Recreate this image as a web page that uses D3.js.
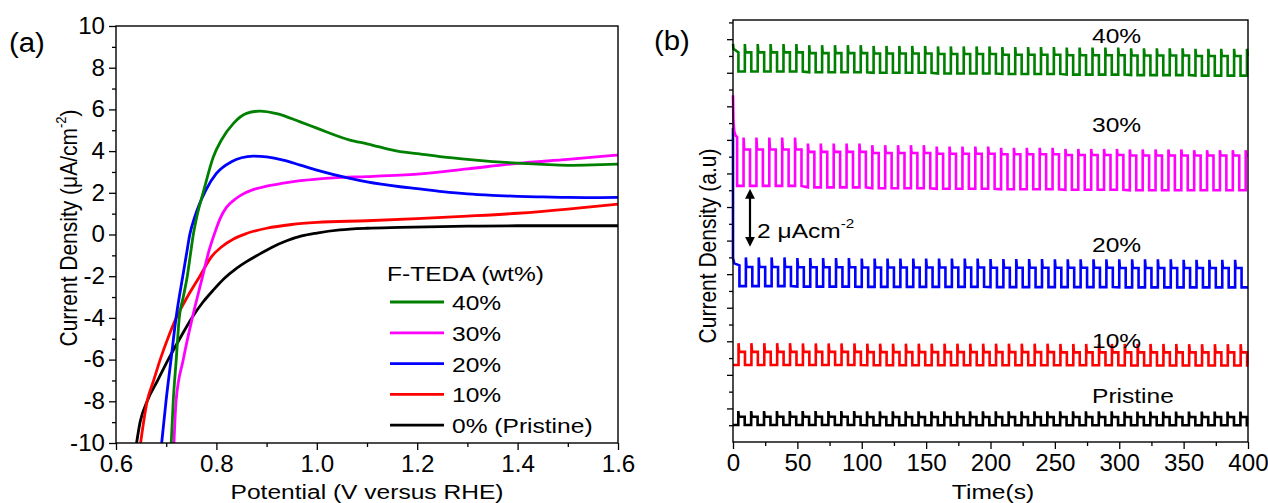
<!DOCTYPE html>
<html><head><meta charset="utf-8">
<script src="https://cdn.jsdelivr.net/npm/d3@7"></script>
<style>
body{margin:0;background:#fff}
svg{display:block}
text{font-family:"Liberation Sans",Arial,sans-serif;fill:#000}
</style>
</head><body>
<svg id="c" width="1268" height="503"></svg>
<script>
// ---------- Panel (a) data: LSV curves [potential V, current density uA/cm2] ----------
const green40 = [[0.710,-10],[0.714,-8],[0.720,-6],[0.726,-4],[0.734,-3],[0.742,-2],[0.748,-1],[0.754,0],[0.761,0.85],[0.775,2.13],[0.794,3.73],[0.810,4.53],[0.834,5.33],[0.860,5.81],[0.887,5.92],[0.920,5.8],[0.967,5.4],[1.0,5.1],[1.066,4.53],[1.1,4.35],[1.166,3.97],[1.2,3.88],[1.25,3.72],[1.3,3.6],[1.35,3.5],[1.4,3.42],[1.45,3.36],[1.5,3.32],[1.55,3.34],[1.6,3.38]];
const magenta30 = [[0.7155,-10],[0.7196,-8],[0.734,-6],[0.752,-4],[0.7726,-2],[0.785,-0.8],[0.797,0.1],[0.808,0.8],[0.82,1.3],[0.835,1.65],[0.85,1.9],[0.873,2.15],[0.9,2.32],[0.93,2.45],[0.967,2.58],[1.0,2.66],[1.033,2.72],[1.1,2.78],[1.166,2.85],[1.2,2.9],[1.3,3.15],[1.4,3.41],[1.5,3.6],[1.6,3.81]];
const blue20 = [[0.691,-10],[0.6996,-8],[0.7096,-6],[0.7196,-4],[0.733,-2],[0.740,-1],[0.747,0],[0.757,0.85],[0.779,2.13],[0.80,2.93],[0.83,3.49],[0.85,3.68],[0.873,3.76],[0.90,3.72],[0.933,3.57],[0.967,3.33],[1.0,3.09],[1.066,2.69],[1.1,2.52],[1.166,2.29],[1.2,2.2],[1.25,2.06],[1.3,1.95],[1.35,1.88],[1.4,1.83],[1.45,1.8],[1.5,1.78],[1.55,1.77],[1.6,1.78]];
const red10 = [[0.649,-10],[0.662,-8],[0.675,-7],[0.688,-6],[0.703,-5],[0.72,-4],[0.742,-3],[0.767,-2],[0.79,-1.07],[0.81,-0.6],[0.835,-0.2],[0.86,0.05],[0.9,0.3],[0.95,0.48],[1.0,0.58],[1.1,0.66],[1.2,0.76],[1.3,0.88],[1.4,1.02],[1.5,1.22],[1.6,1.46]];
const black0 = [[0.641,-10],[0.648,-9],[0.662,-8],[0.683,-7],[0.704,-6],[0.727,-5],[0.751,-4],[0.773,-3.25],[0.794,-2.66],[0.815,-2.12],[0.84,-1.62],[0.86,-1.3],[0.88,-1.02],[0.91,-0.62],[0.94,-0.3],[0.97,-0.07],[1.0,0.07],[1.046,0.22],[1.1,0.3],[1.166,0.34],[1.3,0.4],[1.4,0.42],[1.5,0.42],[1.6,0.42]];
const legendLabels = ["40%","30%","20%","10%","0% (Pristine)"];
const xTicksA = [0.6,0.8,1.0,1.2,1.4,1.6];
const xMinorA = [0.7,0.9,1.1,1.3,1.5];
const yTicksA = [-10,-8,-6,-4,-2,0,2,4,6,8,10];
const yMinorA = [-9,-7,-5,-3,-1,1,3,5,7,9];

// ---------- Panel (b) data: chopped-light chronoamperometry (a.u. = uA/cm2 + offset) ----------
const cycleStarts = [0,10,20,30,40,50,60,70,80,90,100,110,120,130,140,150,160,170,180,190,200,210,220,230,240,250,260,270,280,290,300,310,320,330,340,350,360,370,380,390];
const blockStarts = [0,50,100,150,200,250,300,350];
const greenSpike   = [16.6,16.55,16.52,16.5,16.47,16.45,16.42,16.4];
const greenPlateau = [16.25,16.22,16.2,16.18,16.15,16.13,16.12,16.1];
const greenBase    = [15.45,15.42,15.4,15.37,15.35,15.32,15.3,15.28];
const greenStart   = [[0,16.6],[0.4,16.4],[4.2,16.25]];
const magentaSpike   = [12.7,12.45,12.38,12.32,12.27,12.22,12.2,12.17];
const magentaPlateau = [12.2,12.1,12.05,12.02,12.0,11.97,11.95,11.95];
const magentaBase    = [10.68,10.62,10.58,10.56,10.54,10.52,10.5,10.5];
const magentaStart   = [[0,14.46],[0.3,13.4],[1.0,12.95],[2.0,12.78],[3.2,12.72]];
const blueSpike   = [7.7,7.67,7.65,7.65,7.63,7.62,7.62,7.6];
const bluePlateau = [7.3,7.29,7.28,7.28,7.27,7.27,7.26,7.26];
const blueBase    = [6.5,6.48,6.47,6.47,6.46,6.46,6.45,6.45];
const blueStart   = [[0,13.1],[0,7.67],[1.0,7.45],[5.0,7.37]];
const redSpike   = [4.12,4.11,4.1,4.1,4.1,4.09,4.09,4.08];
const redPlateau = [3.76,3.76,3.75,3.75,3.75,3.74,3.74,3.74];
const redBase    = [3.21,3.21,3.2,3.2,3.2,3.2,3.19,3.19];
const blackSpike   = [1.29,1.29,1.28,1.28,1.28,1.28,1.27,1.27];
const blackPlateau = [1.05,1.05,1.04,1.04,1.04,1.04,1.04,1.04];
const blackBase    = [0.71,0.71,0.7,0.7,0.7,0.7,0.7,0.7];
const traceLabels = ["40%","30%","20%","10%","Pristine"];
const xTicksB = [0,50,100,150,200,250,300,350,400];
const xMinorB = [25,75,125,175,225,275,325,375];

// ================= drawing =================
const svg = d3.select('#c');
const FS = 21;      // font size of titles / annotations
const TFS = 23;     // tick label font size
const SX = 1.17;    // horizontal stretch of the original figure's lettering
const TSX = 1.05;   // stretch for tick labels
const LW = 2.8;
const defs = svg.append('defs');

function htext(parent, x, y, str, size, anchor){
  return parent.append('text').attr('transform',`translate(${x},${y}) scale(${SX},1)`)
    .attr('font-size', size||FS).attr('text-anchor', anchor||'start').text(str);
}
function styleTicks(g, left){
  g.selectAll('.tick text').attr('font-size',TFS).attr('font-family','"Liberation Sans",Arial,sans-serif')
   .attr('fill','#000').attr('transform',`scale(${TSX},1)`)
   .each(function(){ if(left){ const t=d3.select(this); t.attr('x', (+t.attr('x'))/TSX); } });
  g.selectAll('.tick line').attr('stroke','#000').attr('stroke-width',1.3);
}

// ---------- Panel (a) ----------
const xa = d3.scaleLinear().domain([0.6,1.6]).range([116,618]);
const ya = d3.scaleLinear().domain([-10,10]).range([443,26]);
const ga = svg.append('g');

ga.append('g').attr('transform','translate(0,443)')
  .call(d3.axisBottom(xa).tickValues(xTicksA).tickFormat(d3.format('.1f')).tickSize(7).tickPadding(6))
  .call(g=>g.select('.domain').remove()).call(g=>styleTicks(g,false));
ga.append('g').attr('transform','translate(0,443)')
  .call(d3.axisBottom(xa).tickValues(xMinorA).tickFormat('').tickSize(4))
  .call(g=>g.select('.domain').remove()).call(g=>styleTicks(g,false));
ga.append('g').attr('transform','translate(116,0)')
  .call(d3.axisLeft(ya).tickValues(yTicksA).tickFormat(d=>String(d)).tickSize(7).tickPadding(4))
  .call(g=>g.select('.domain').remove()).call(g=>styleTicks(g,true));
ga.append('g').attr('transform','translate(116,0)')
  .call(d3.axisLeft(ya).tickValues(yMinorA).tickFormat('').tickSize(4))
  .call(g=>g.select('.domain').remove()).call(g=>styleTicks(g,true));

defs.append('clipPath').attr('id','clipA')
  .append('rect').attr('x',116).attr('y',26).attr('width',502).attr('height',417);

const lineA = d3.line().x(d=>xa(d[0])).y(d=>ya(d[1])).curve(d3.curveMonotoneX);
const seriesA = [
  {data: green40, color:'#008000'},
  {data: magenta30, color:'#ff00ff'},
  {data: blue20, color:'#0000ff'},
  {data: red10, color:'#ff0000'},
  {data: black0, color:'#000000'}
];
[4,3,1,2,0].forEach(i=>{
  ga.append('path').attr('d',lineA(seriesA[i].data)).attr('fill','none')
    .attr('stroke',seriesA[i].color).attr('stroke-width',LW).attr('clip-path','url(#clipA)');
});
ga.append('rect').attr('x',116).attr('y',26).attr('width',502).attr('height',417)
  .attr('fill','none').attr('stroke','#000').attr('stroke-width',1.4);

// legend
htext(ga, 387, 281, 'F-TEDA (wt%)');
seriesA.forEach((s,i)=>{
  const y = 302 + i*30.8;
  ga.append('line').attr('x1',390).attr('x2',444).attr('y1',y).attr('y2',y)
    .attr('stroke',s.color).attr('stroke-width',LW);
  htext(ga, 452, y+8, legendLabels[i]);
});

// titles
htext(ga, 367, 499, 'Potential (V versus RHE)', FS, 'middle');
const yt = ga.append('text').attr('transform',`translate(77,228) scale(${SX},1) rotate(-90)`)
  .attr('text-anchor','middle').attr('font-size',FS);
yt.append('tspan').text('Current Density (\u03bcA/cm');
yt.append('tspan').attr('font-size',13).attr('dy',-9).text('-2');
yt.append('tspan').attr('dy',9).text(')');
svg.append('text').attr('transform','translate(9,52) scale(1.05,1)').attr('font-size',28)
  .attr('font-family','"Open Sans","Noto Sans",sans-serif').text('(a)');

// ---------- Panel (b) ----------
const xb = d3.scaleLinear().domain([0,400]).range([733,1248]);
const yb = d3.scaleLinear().domain([0,17.6]).range([442,20]);
const gb = svg.append('g');

gb.append('g').attr('transform','translate(0,442)')
  .call(d3.axisBottom(xb).tickValues(xTicksB).tickFormat(d=>String(d)).tickSize(7).tickPadding(6))
  .call(g=>g.select('.domain').remove()).call(g=>styleTicks(g,false));
gb.append('g').attr('transform','translate(0,442)')
  .call(d3.axisBottom(xb).tickValues(xMinorB).tickFormat('').tickSize(4))
  .call(g=>g.select('.domain').remove()).call(g=>styleTicks(g,false));
gb.append('g').attr('transform','translate(733,0)')
  .call(d3.axisLeft(yb).tickValues(d3.range(0.7,17.6,1.4)).tickFormat('').tickSize(4))
  .call(g=>g.select('.domain').remove()).call(g=>styleTicks(g,true));
gb.append('g').attr('transform','translate(733,0)')
  .call(d3.axisLeft(yb).tickValues(d3.range(1.4,17.6,1.4)).tickFormat('').tickSize(6))
  .call(g=>g.select('.domain').remove()).call(g=>styleTicks(g,true));

const ON = 5;
function blockIdx(t){ let b=0; blockStarts.forEach((s,i)=>{ if(t>=s) b=i; }); return b; }
function buildTrace(phase, spike, plateau, base, start){
  const pts = [];
  if (start && start.length){
    start.forEach(p=>pts.push(p));
    pts.push([phase - 10 + ON, base[0]]);
  } else {
    pts.push([0, base[0]]);
  }
  cycleStarts.forEach(c=>{
    const r = phase + c;
    if (r >= 400) return;
    const b = blockIdx(r);
    pts.push([r, base[b]]);
    pts.push([r, spike[b]]);
    pts.push([Math.min(r+0.5,400), plateau[b]]);
    const f = r + ON;
    if (f <= 400){ pts.push([f, plateau[b]]); pts.push([f, base[b]]); }
    else { pts.push([400, plateau[b]]); }
  });
  const last = pts[pts.length-1];
  if (last[0] < 400) pts.push([400, last[1]]);
  return pts;
}
const seriesB = [
  {color:'#0000ff', pts: buildTrace(10.0, blueSpike, bluePlateau, blueBase, blueStart)},
  {color:'#ff00ff', pts: buildTrace(8.2, magentaSpike, magentaPlateau, magentaBase, magentaStart)},
  {color:'#008000', pts: buildTrace(9.2, greenSpike, greenPlateau, greenBase, greenStart)},
  {color:'#ff0000', pts: buildTrace(4.3, redSpike, redPlateau, redBase, null)},
  {color:'#000000', pts: buildTrace(4.1, blackSpike, blackPlateau, blackBase, null)}
];
const lineB = d3.line().x(d=>xb(d[0])).y(d=>yb(d[1]));
seriesB.forEach(s=>{
  gb.append('path').attr('d',lineB(s.pts)).attr('fill','none').attr('stroke',s.color)
    .attr('stroke-width',2.6).attr('stroke-linejoin','miter');
});
gb.append('rect').attr('x',733).attr('y',20).attr('width',515).attr('height',422)
  .attr('fill','none').attr('stroke','#000').attr('stroke-width',1.4);

// trace labels
const labelY = [43,132,252,348,403];
traceLabels.forEach((t,i)=> htext(gb, 1092, labelY[i], t));

// scale bar
defs.append('marker').attr('id','ah').attr('viewBox','0 0 10 10').attr('refX',5).attr('refY',5)
  .attr('markerWidth',4.5).attr('markerHeight',5).attr('orient','auto-start-reverse')
  .append('path').attr('d','M0,0 L10,5 L0,10 z').attr('fill','#000');
gb.append('line').attr('x1',750).attr('x2',750).attr('y1',yb(8.35)).attr('y2',yb(10.35))
  .attr('stroke','#000').attr('stroke-width',2.2)
  .attr('marker-start','url(#ah)').attr('marker-end','url(#ah)');
const sb = gb.append('text').attr('transform',`translate(757,238) scale(${SX},1)`).attr('font-size',FS);
sb.append('tspan').text('2 \u03bcAcm');
sb.append('tspan').attr('font-size',13).attr('dy',-10).text('-2');

htext(gb, 993, 499, 'Time(s)', FS, 'middle');
gb.append('text').attr('transform',`translate(716,246) scale(${SX},1) rotate(-90)`).attr('text-anchor','middle')
  .attr('font-size',FS).text('Current Density (a.u)');
svg.append('text').attr('transform','translate(654,50) scale(1.05,1)').attr('font-size',28)
  .attr('font-family','"Open Sans","Noto Sans",sans-serif').text('(b)');
</script>
</body></html>
